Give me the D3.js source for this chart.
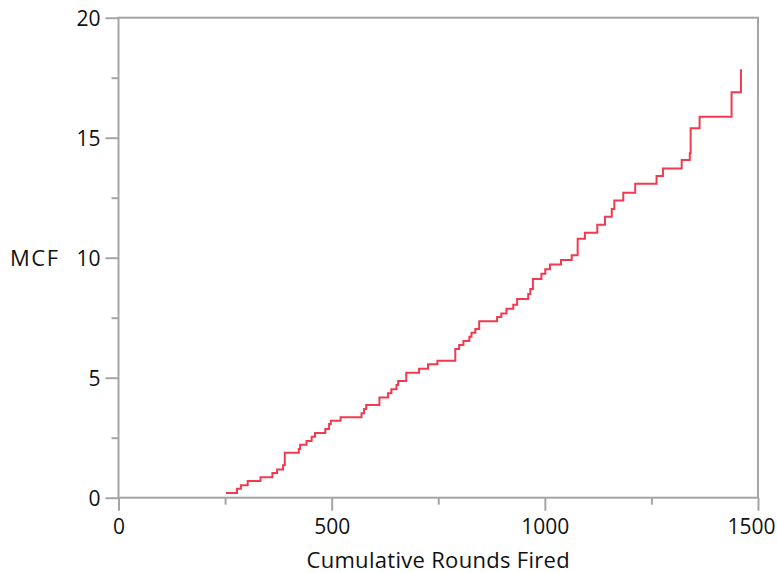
<!DOCTYPE html>
<html>
<head>
<meta charset="utf-8">
<script src="https://cdn.jsdelivr.net/npm/d3@7"></script>
<style>
  body { margin: 0; background: #fff; }
  text { font-family: "Open Sans", sans-serif; fill: #111; }
</style>
</head>
<body>
<script>
// step points of the MCF curve (value after each step)
const rounds = [252, 278, 287, 303, 333, 361, 372, 386, 390, 423, 426, 441, 453, 461, 485, 494,
  498, 521, 570, 576, 581, 612, 632, 640, 652, 656, 675, 705, 726, 748,
  790, 799, 809, 823, 828, 837, 846, 888, 898, 910, 926, 935, 961,
  966, 972, 992, 1001, 1012, 1038, 1063, 1077, 1094, 1123,
  1141, 1157, 1163, 1184, 1212, 1262, 1277, 1321, 1340, 1342, 1363, 1438, 1460];
const mcf = [0.20, 0.375, 0.52, 0.70, 0.85, 1.03, 1.17, 1.35, 1.875, 2.03, 2.21, 2.36, 2.54, 2.70, 2.86, 3.07,
  3.21, 3.35, 3.52, 3.70, 3.86, 4.18, 4.35, 4.52, 4.70, 4.86, 5.21, 5.375, 5.56, 5.71,
  6.20, 6.36, 6.53, 6.71, 6.875, 7.03, 7.35, 7.53, 7.68, 7.875, 8.04, 8.28, 8.49,
  8.70, 9.11, 9.33, 9.52, 9.72, 9.90, 10.10, 10.79, 11.04, 11.375,
  11.71, 12.03, 12.38, 12.71, 13.08, 13.40, 13.72, 14.07, 14.35, 15.39, 15.875, 16.89, 17.85];

const xTicks = [0, 500, 1000, 1500];
const xMinor = [250, 750, 1250];
const yTicks = [0, 5, 10, 15, 20];
const yMinor = [2.5, 7.5, 12.5, 17.5];

const w = 777;
const h = 573;
const m = { left: 118.5, right: 758, top: 17.7, bottom: 497.7 };
const axisColor = "#a5a5a5";

const xScale = d3.scaleLinear().domain([0, 1500]).range([m.left, m.right]);
const yScale = d3.scaleLinear().domain([0, 20]).range([m.bottom, m.top]);

const svg = d3.select("body")
  .append("svg")
  .attr("width", w)
  .attr("height", h);

// frame
svg.append("rect")
  .attr("x", m.left)
  .attr("y", m.top)
  .attr("width", m.right - m.left)
  .attr("height", m.bottom - m.top)
  .attr("fill", "none")
  .attr("stroke", axisColor)
  .attr("stroke-width", 2);

const yAxis = svg.append("g")
  .attr("transform", "translate(" + m.left + ",0)")
  .call(d3.axisLeft(yScale).tickValues(yTicks).tickSize(13).tickPadding(5).tickFormat(d3.format("d")));
svg.append("g")
  .attr("transform", "translate(" + m.left + ",0)")
  .call(d3.axisLeft(yScale).tickValues(yMinor).tickSize(7).tickFormat(""));

const xAxis = svg.append("g")
  .attr("transform", "translate(0," + m.bottom + ")")
  .call(d3.axisBottom(xScale).tickValues(xTicks).tickSize(13).tickPadding(8).tickFormat(d3.format("d")));
svg.append("g")
  .attr("transform", "translate(0," + m.bottom + ")")
  .call(d3.axisBottom(xScale).tickValues(xMinor).tickSize(7).tickFormat(""));

svg.selectAll(".domain").remove();
svg.selectAll(".tick line")
  .attr("stroke", axisColor)
  .attr("stroke-width", 2);
svg.selectAll(".tick text")
  .style("font-size", "21px")
  .style("font-family", "'Open Sans', sans-serif")
  .attr("fill", "#111");
yAxis.selectAll(".tick text").attr("dy", "0.36em");

// last x label is pulled in so it stays inside the window
xAxis.selectAll(".tick text")
  .filter(d => d === 1500)
  .attr("text-anchor", "end")
  .attr("x", 17);

// curve
const pts = rounds.map((r, i) => [r, mcf[i]]);
const line = d3.line()
  .x(d => xScale(d[0]))
  .y(d => yScale(d[1]))
  .curve(d3.curveStepAfter);

svg.append("path")
  .datum(pts)
  .attr("d", line)
  .attr("fill", "none")
  .attr("stroke", "#ef3a50")
  .attr("stroke-width", 2);

// axis titles
svg.append("text")
  .attr("x", (m.left + m.right) / 2)
  .attr("y", 568)
  .attr("text-anchor", "middle")
  .style("font-size", "22px")
  .style("letter-spacing", "0.3px")
  .text("Cumulative Rounds Fired");

svg.append("text")
  .attr("x", 10)
  .attr("y", yScale(10))
  .attr("dy", "0.36em")
  .style("font-size", "22px")
  .style("letter-spacing", "1.5px")
  .text("MCF");
</script>
</body>
</html>
